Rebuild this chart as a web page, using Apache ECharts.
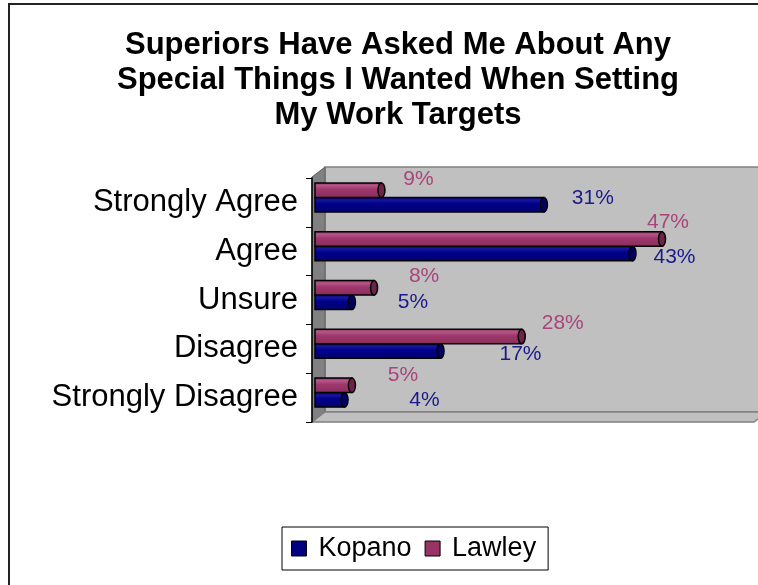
<!DOCTYPE html>
<html>
<head>
<meta charset="utf-8">
<script src="https://cdn.jsdelivr.net/npm/echarts@6/dist/echarts.min.js"></script>
<style>
  html, body { margin: 0; padding: 0; background: #fff; }
  #chart { width: 758px; height: 585px; }
</style>
</head>
<body>
<div id="chart"></div>
<script>
const categories = ['Strongly Agree', 'Agree', 'Unsure', 'Disagree', 'Strongly Disagree'];
const kopano = [31, 43, 5, 17, 4];
const lawley = [9, 47, 8, 28, 5];

// label offsets from bar end / bar centre (the original labels sit a bit randomly)
const kopanoLabelDx = [49, 42, 61, 80, 80];
const kopanoLabelDy = [-6, 4, 0, 3, 0];
const lawleyLabelDx = [37, 6, 50, 41, 51];
const lawleyLabelDy = [-11, -17, -12, -13, -10];

// 3d box frame
const FRONT_X = 312, FRONT_TOP = 177, FRONT_BOTTOM = 422, FRONT_RIGHT = 754;
const DX = 13, DY = 10;

const FONT = '"Liberation Sans", Arial, sans-serif';

function barRenderer(slot, grad, capColor, labelColor, labelDx, labelDy) {
  return function (params, api) {
    const val = api.value(0);
    const cat = api.value(1);
    const start = api.coord([0, cat]);
    const end = api.coord([val, cat]);
    const band = api.size([0, 1])[1];
    const thick = band * 0.297;
    const top = slot === 0 ? start[1] - thick : start[1];
    const cy = top + thick / 2;
    const i = params.dataIndex;
    return {
      type: 'group',
      children: [
        {
          type: 'rect',
          shape: { x: start[0], y: top, width: end[0] - start[0], height: thick },
          style: {
            fill: new echarts.graphic.LinearGradient(0, 0, 0, 1, grad),
            stroke: '#000', lineWidth: 1.5
          }
        },
        {
          type: 'ellipse',
          shape: { cx: end[0], cy: cy, rx: 3.5, ry: thick / 2 },
          style: { fill: capColor, stroke: '#000', lineWidth: 1.5 }
        },
        {
          type: 'text',
          x: end[0] + labelDx[i],
          y: cy + labelDy[i],
          style: {
            text: val + '%', fill: labelColor, font: '21px ' + FONT,
            align: 'center', verticalAlign: 'middle'
          }
        }
      ]
    };
  };
}

const chart = echarts.init(document.getElementById('chart'));
chart.setOption({
  animation: false,
  backgroundColor: '#fff',
  title: {
    text: 'Superiors Have Asked Me About Any\nSpecial Things I Wanted When Setting\nMy Work Targets',
    left: 393, top: 23, textAlign: 'center',
    textStyle: { fontFamily: FONT, fontSize: 31, fontWeight: 'bold', lineHeight: 35, color: '#000' }
  },
  legend: {
    left: 282, top: 527,
    padding: [8, 12, 8, 9],
    borderColor: '#000', borderWidth: 1,
    itemWidth: 15, itemHeight: 15, itemGap: 13,
    icon: 'rect',
    itemStyle: { borderColor: '#000', borderWidth: 1 },
    textStyle: { fontFamily: FONT, fontSize: 27, color: '#000', lineHeight: 26, padding: [0, 0, 0, 7] },
    data: ['Kopano', 'Lawley']
  },
  graphic: [
    { type: 'rect', z: -10, shape: { x: 9, y: 4, width: 800, height: 640 },
      style: { fill: 'none', stroke: '#222', lineWidth: 2 } },
    { type: 'rect', z: -9, shape: { x: FRONT_X + DX, y: FRONT_TOP - DY, width: 500, height: FRONT_BOTTOM - FRONT_TOP },
      style: { fill: '#c0c0c0', stroke: '#808080', lineWidth: 1.5 } },
    { type: 'polygon', z: -8, shape: { points: [[FRONT_X, FRONT_TOP], [FRONT_X + DX, FRONT_TOP - DY], [FRONT_X + DX, FRONT_BOTTOM - DY], [FRONT_X, FRONT_BOTTOM]] },
      style: { fill: '#808080', stroke: '#606060', lineWidth: 1 } },
    { type: 'polygon', z: -8, shape: { points: [[FRONT_X, FRONT_BOTTOM], [FRONT_X + DX, FRONT_BOTTOM - DY], [FRONT_RIGHT + DX, FRONT_BOTTOM - DY], [FRONT_RIGHT, FRONT_BOTTOM]] },
      style: { fill: '#c0c0c0', stroke: '#808080', lineWidth: 1.5 } }
  ],
  grid: [
    { left: FRONT_X, top: FRONT_TOP + 1, width: 442, height: FRONT_BOTTOM - FRONT_TOP - 1 },
    { left: 315, top: 173, width: 447, height: 244 }
  ],
  xAxis: [
    { gridIndex: 0, type: 'value', min: 0, max: 60, show: false },
    { gridIndex: 1, type: 'value', min: 0, max: 60, show: false }
  ],
  yAxis: [
    {
      gridIndex: 0, type: 'category', data: categories, inverse: true,
      axisLine: { show: true, lineStyle: { color: '#000', width: 1.5 } },
      axisTick: { show: true, length: 6, lineStyle: { color: '#000' } },
      axisLabel: { fontFamily: FONT, fontSize: 31, color: '#000', margin: 14 },
      splitLine: { show: false }
    },
    { gridIndex: 1, type: 'category', data: categories, inverse: true, show: false }
  ],
  series: [
    {
      name: 'Kopano', type: 'custom', xAxisIndex: 1, yAxisIndex: 1,
      itemStyle: { color: '#000080' },
      encode: { x: 0, y: 1 },
      data: kopano.map((v, i) => [v, i]),
      renderItem: barRenderer(1, [
        { offset: 0, color: '#00006a' }, { offset: 0.2, color: '#1616a0' },
        { offset: 0.45, color: '#000088' }, { offset: 1, color: '#000070' }
      ], '#000060', '#1a1a8c', kopanoLabelDx, kopanoLabelDy)
    },
    {
      name: 'Lawley', type: 'custom', xAxisIndex: 1, yAxisIndex: 1,
      itemStyle: { color: '#993366' },
      encode: { x: 0, y: 1 },
      data: lawley.map((v, i) => [v, i]),
      renderItem: barRenderer(0, [
        { offset: 0, color: '#7d2a55' }, { offset: 0.2, color: '#b7568a' },
        { offset: 0.45, color: '#9e386c' }, { offset: 1, color: '#882c5a' }
      ], '#6e2448', '#a8457a', lawleyLabelDx, lawleyLabelDy)
    }
  ]
});
</script>
</body>
</html>
